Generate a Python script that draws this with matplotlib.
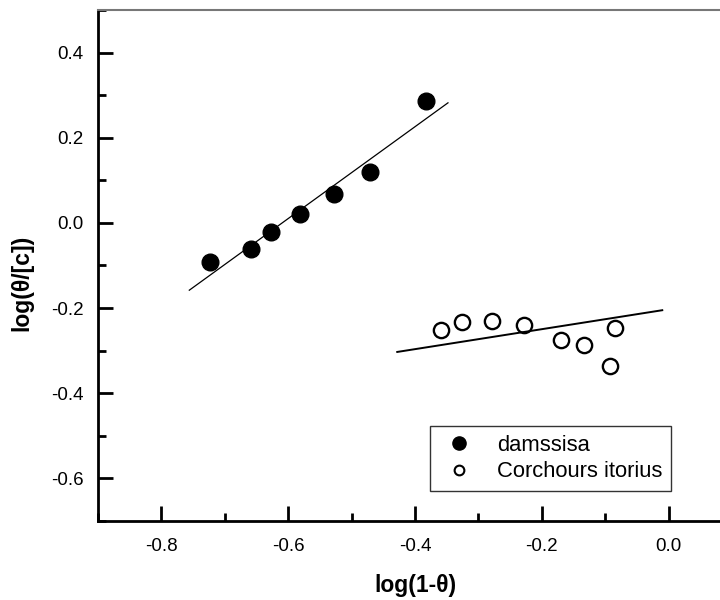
import matplotlib
matplotlib.use("Agg")
import matplotlib.pyplot as plt
from matplotlib.ticker import MultipleLocator, FormatStrFormatter

plt.rcParams['font.family'] = ['Liberation Sans', 'DejaVu Sans']

# damssisa (filled)
dam_x = [-0.723, -0.659, -0.627, -0.582, -0.528, -0.471, -0.382]
dam_y = [-0.091, -0.062, -0.021, 0.022, 0.068, 0.120, 0.287]
dam_fit_x = [-0.756, -0.348]
dam_fit_y = [-0.158, 0.282]

# Corchours itorius (open)
cor_x = [-0.359, -0.326, -0.279, -0.228, -0.170, -0.133, -0.092, -0.085]
cor_y = [-0.252, -0.233, -0.231, -0.239, -0.274, -0.287, -0.336, -0.247]
cor_fit_x = [-0.428, -0.010]
cor_fit_y = [-0.303, -0.205]

fig = plt.figure(figsize=(7.2, 6), dpi=100)
ax = fig.add_axes([98 / 720, 79 / 600, 634 / 720, 511 / 600])

ax.plot(dam_x, dam_y, 'o', color='black', ms=12, label='damssisa')
ax.plot(dam_fit_x, dam_fit_y, '-', color='black', lw=0.9)
ax.plot(cor_x, cor_y, 'o', mfc='white', mec='black', mew=1.7, ms=11,
        label='Corchours itorius')
ax.plot(cor_fit_x, cor_fit_y, '-', color='black', lw=1.4)

ax.set_xlim(-0.9, 0.1)
ax.set_ylim(-0.7, 0.5)

ax.xaxis.set_major_locator(MultipleLocator(0.2))
ax.xaxis.set_minor_locator(MultipleLocator(0.1))
ax.yaxis.set_major_locator(MultipleLocator(0.2))
ax.yaxis.set_minor_locator(MultipleLocator(0.1))
ax.xaxis.set_major_formatter(FormatStrFormatter('%.1f'))
ax.yaxis.set_major_formatter(FormatStrFormatter('%.1f'))

ax.tick_params(which='both', direction='in', width=2, labelsize=13.5,
               top=False, right=False)
ax.tick_params(which='major', length=11)
ax.tick_params(axis='y', which='major', pad=10.5)
ax.tick_params(axis='x', which='major', pad=12.5)
ax.tick_params(which='minor', length=5.5)

ax.spines['left'].set_linewidth(2)
ax.spines['bottom'].set_linewidth(2)
ax.spines['top'].set_linewidth(1.5)
ax.spines['top'].set_color('#777777')
ax.spines['right'].set_visible(False)

ax.set_xlabel('log(1-θ)', fontsize=16.5, fontweight='bold')
ax.set_ylabel('log(θ/[c])', fontsize=16.5, fontweight='bold')
ax.xaxis.set_label_coords((415 - 98) / 634, -(574 - 521) / 511)
ax.yaxis.set_label_coords(-(98 - 33) / 634, (521 - 283) / 511)

leg = ax.legend(loc='lower left', bbox_to_anchor=((430 - 98) / 634, (521 - 491) / 511),
                borderaxespad=0, fontsize=15.8, frameon=True, fancybox=False,
                edgecolor='black', handletextpad=0.85, borderpad=0.4,
                labelspacing=0.25, handlelength=1.8)
leg.get_frame().set_linewidth(1)
leg.legend_handles[0].set_markersize(9.5)
leg.legend_handles[1].set_markersize(7)
leg.legend_handles[1].set_markeredgewidth(1.5)

fig.savefig('out.png', dpi=100)
